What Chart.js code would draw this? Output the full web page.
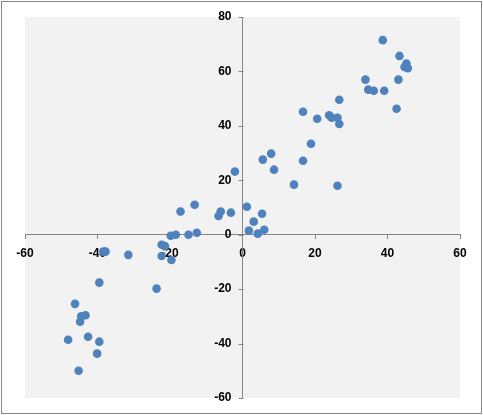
<!DOCTYPE html>
<html>
<head>
<meta charset="utf-8">
<script src="https://cdn.jsdelivr.net/npm/chart.js@4"></script>
<style>
html,body{margin:0;padding:0;background:#fff;}
#wrap{position:relative;width:483px;height:415px;}
</style>
</head>
<body>
<div id="wrap"><canvas id="c" width="483" height="415"></canvas></div>
<script>
const xValues = [38.7, 43.3, 45.2, 44.7, 45.6, 33.9, 43.0, 34.7, 36.2, 39.1,
  42.5, 26.7, 16.7, 20.6, 23.9, 24.6, 26.2, 26.7, 18.9, 16.7,
  7.9, 5.6, 8.7, -2.1, 14.2, 26.2, 1.2, 5.4, 3.1, 1.75,
  4.2, 6.0, -3.2, -6.0, -6.6, -13.2, -17.1, -12.6, -14.9, -18.4,
  -19.8, -22.3, -21.4, -22.3, -19.6, -31.5, -38.4, -37.8, -39.5, -23.7,
  -46.2, -43.3, -44.5, -44.8, -48.1, -42.6, -39.5, -40.1, -45.2];
const yValues = [71.5, 65.7, 62.9, 61.6, 61.2, 57.0, 57.0, 53.3, 52.9, 52.9,
  46.3, 49.6, 45.2, 42.6, 43.9, 43.0, 43.0, 40.7, 33.4, 27.2,
  29.8, 27.6, 23.9, 23.2, 18.4, 18.0, 10.3, 7.7, 4.8, 1.5,
  0.4, 1.8, 8.1, 8.5, 6.9, 11.0, 8.5, 0.7, 0.0, 0.0,
  -0.4, -3.7, -4.2, -7.8, -9.3, -7.4, -6.2, -6.2, -17.6, -19.8,
  -25.4, -29.6, -30.0, -32.0, -38.6, -37.5, -39.3, -43.7, -50.0];
const xTicks = [-60, -40, -20, 0, 20, 40, 60];
const yTicks = [-60, -40, -20, 0, 20, 40, 60, 80];

const points = xValues.map((x, i) => ({x: x, y: yValues[i]}));

const bgPlugin = {
  id: 'bg',
  beforeDraw(chart) {
    const {ctx, chartArea: a} = chart;
    ctx.save();
    ctx.fillStyle = '#ffffff';
    ctx.fillRect(0, 0, chart.width, chart.height);
    ctx.fillStyle = '#f2f2f2';
    ctx.fillRect(a.left, a.top, a.right - a.left, a.bottom - a.top);
    ctx.strokeStyle = '#868686';
    ctx.lineWidth = 1;
    ctx.strokeRect(1.5, 1.5, chart.width - 3, chart.height - 3);
    ctx.restore();
    // move y tick labels left of the tick marks
    const ys = chart.scales.y;
    const items = ys.getLabelItems(a);
    if (!items._shifted) {
      items.forEach(it => { it.options.translation[0] -= 11; });
      items._shifted = true;
    }
  },
  afterDraw(chart) {
    // short outward tick marks on the y axis
    const {ctx} = chart;
    const xs = chart.scales.x, ys = chart.scales.y;
    const ax = Math.round(xs.getPixelForValue(0)) + 0.5;
    ctx.save();
    ctx.strokeStyle = '#868686';
    ctx.lineWidth = 1;
    ctx.beginPath();
    ys.ticks.forEach(t => {
      const py = Math.round(ys.getPixelForValue(t.value)) + 0.5;
      ctx.moveTo(ax - 5, py);
      ctx.lineTo(ax, py);
    });
    ctx.stroke();
    ctx.restore();
  }
};

const tickFont = {family: '"Liberation Sans", Arial, sans-serif', size: 12, weight: 'bold'};

new Chart(document.getElementById('c'), {
  type: 'scatter',
  data: {
    datasets: [{
      data: points,
      backgroundColor: '#4f81bd',
      borderColor: '#4f81bd',
      borderWidth: 0,
      pointRadius: 4.3,
      pointHoverRadius: 4.3
    }]
  },
  options: {
    responsive: false,
    animation: false,
    devicePixelRatio: 1,
    layout: {padding: {left: 25, top: 17, right: 23, bottom: 17}},
    plugins: {legend: {display: false}, tooltip: {enabled: false}},
    scales: {
      x: {
        type: 'linear',
        position: {y: 0},
        min: -60, max: 60,
        afterBuildTicks: (s) => { s.ticks = xTicks.map(v => ({value: v})); },
        grid: {drawOnChartArea: false, tickLength: 4, tickColor: '#868686'},
        border: {color: '#868686', width: 1},
        ticks: {color: '#000', font: tickFont, padding: 8, maxRotation: 0}
      },
      y: {
        type: 'linear',
        position: {x: 0},
        min: -60, max: 80,
        afterBuildTicks: (s) => { s.ticks = yTicks.map(v => ({value: v})); },
        grid: {drawOnChartArea: false, tickLength: 4, tickColor: 'rgba(0,0,0,0)'},
        border: {color: '#868686', width: 1},
        ticks: {color: '#000', font: tickFont, padding: 8}
      }
    }
  },
  plugins: [bgPlugin]
});
</script>
</body>
</html>
